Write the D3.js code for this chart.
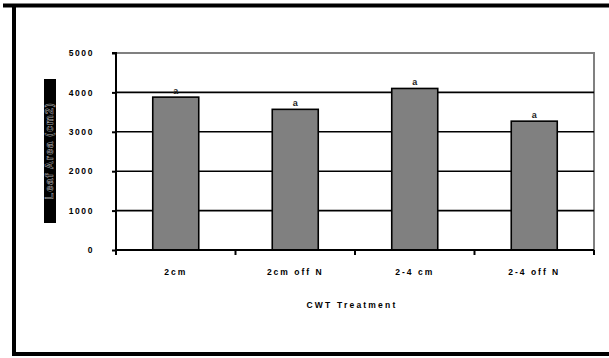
<!DOCTYPE html>
<html><head><meta charset="utf-8">
<script src="https://cdn.jsdelivr.net/npm/d3@7"></script>
<style>body{margin:0;background:#fff}svg{display:block}text{font-family:"Liberation Sans",Arial,sans-serif;font-weight:bold}</style>
</head><body><svg id="c" width="609" height="358"></svg>
<script>
const categories = ["2cm", "2cm off N", "2-4 cm", "2-4 off N"];
const values = [3880, 3570, 4100, 3270];
const sigLetters = ["a", "a", "a", "a"];
const yTicks = [0, 1000, 2000, 3000, 4000, 5000];
const xTitle = "CWT Treatment";
const yTitle = "Leaf Area (cm2)";

const svg = d3.select("#c");
svg.append("path").attr("d","M3,5.5H609M14,5V355M12,354H609").attr("fill","none").attr("stroke","#000").attr("stroke-width",4);

const L=116, R=594, T=53, B=250;
const x = d3.scaleBand().domain(categories).range([L,R]).paddingInner(0.615).paddingOuter(0.3075);
const xb = d3.scaleBand().domain(categories).range([L,R]);
const y = d3.scaleLinear().domain([0,5000]).range([B,T]);

svg.append("path").attr("d",`M${L},${T}H${R}V${B}`).attr("fill","none").attr("stroke","#808080").attr("stroke-width",2);
svg.append("g").selectAll("line").data(yTicks.filter(d=>d>0&&d<5000)).join("line")
  .attr("x1",L).attr("x2",R).attr("y1",d=>y(d)).attr("y2",d=>y(d)).attr("stroke","#000").attr("stroke-width",1.6);

svg.append("g").selectAll("rect").data(values).join("rect")
  .attr("x",(d,i)=>x(categories[i])).attr("width",x.bandwidth())
  .attr("y",d=>y(d)).attr("height",d=>B-y(d))
  .attr("fill","#808080").attr("stroke","#000").attr("stroke-width",1.6);
svg.append("g").selectAll("text").data(values).join("text")
  .attr("x",(d,i)=>x(categories[i])+x.bandwidth()/2).attr("y",d=>y(d)-3)
  .attr("text-anchor","middle").attr("font-size",9).attr("fill","#222").text((d,i)=>sigLetters[i]);

const ya = d3.axisLeft(y).tickValues(yTicks).tickSize(4).tickPadding(18).tickFormat(d3.format("d"));
const gy = svg.append("g").attr("transform",`translate(${L},0)`).call(ya);
gy.select(".domain").attr("stroke","#000").attr("stroke-width",2).attr("d",`M-4,${T}H0V${B+4}`);
gy.selectAll(".tick line").attr("stroke","#000").attr("stroke-width",2);
gy.selectAll(".tick text").attr("font-size",8.5).attr("letter-spacing","1.6px").attr("fill","#000").attr("font-family","Liberation Sans, Arial").attr("font-weight","bold");

const xa = d3.axisBottom(xb).tickSize(0).tickPadding(19);
const gx = svg.append("g").attr("transform",`translate(0,${B})`).call(xa);
gx.select(".domain").attr("stroke","#000").attr("stroke-width",2).attr("d",`M${L},0H${R}`);
gx.selectAll(".tick text").attr("font-size",8.5).attr("letter-spacing","2px").attr("fill","#000").attr("font-family","Liberation Sans, Arial").attr("font-weight","bold");
const edges = categories.map(c=>xb(c)).concat([R]);
svg.append("g").selectAll("line").data(edges).join("line")
  .attr("x1",d=>d).attr("x2",d=>d).attr("y1",B).attr("y2",B+5).attr("stroke","#000").attr("stroke-width",2);

svg.append("text").attr("x",352).attr("y",308).attr("text-anchor","middle").attr("font-size",8.5).attr("letter-spacing","2.2px").text(xTitle);

svg.append("rect").attr("x",44).attr("y",79).attr("width",12).attr("height",144).attr("fill","#000");
svg.append("text").attr("transform","translate(53,151) rotate(-90)").attr("text-anchor","middle")
  .attr("font-size",11).attr("letter-spacing","1px").attr("fill","#000").attr("stroke","#aaa").attr("stroke-width",0.5).text(yTitle);
</script></body></html>
